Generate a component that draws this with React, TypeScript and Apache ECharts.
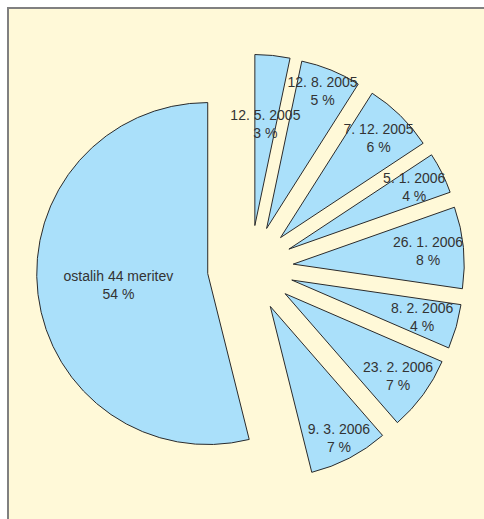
import React, { useEffect, useRef } from 'react';
import * as echarts from 'echarts';

// Slices, clockwise from 12 o'clock
const categories = [
  '12. 5. 2005',
  '12. 8. 2005',
  '7. 12. 2005',
  '5. 1. 2006',
  '26. 1. 2006',
  '8. 2. 2006',
  '23. 2. 2006',
  '9. 3. 2006',
  'ostalih 44 meritev',
];
// Shares (percent)
const values = [3.3, 5.7, 6.7, 3.9, 7.7, 4.2, 7.1, 7.5, 53.9];
// Percent labels as printed on the chart
const percentLabels = ['3 %', '5 %', '6 %', '4 %', '8 %', '4 %', '7 %', '7 %', '54 %'];

const RADIUS = 171;
const CENTER = [250.4, 268.3];
const OFFSET = 43;
const FILL = '#AAE0FA';
const STROKE = '#2b2b2b';
const BG = '#FFF9D8';

export default function App() {
  const ref = useRef<HTMLDivElement>(null);
  useEffect(() => {
    const chart = echarts.init(ref.current!, null, { renderer: 'svg' });

    const makeData = (shown: number[]) =>
      categories.map((name, i) => ({
        name,
        value: values[i],
        selected: true,
        label: { show: shown.includes(i) },
      }));

    const labelStyle = {
      position: 'inside',
      formatter: (p: any) => `${p.name}\n${percentLabels[p.dataIndex]}`,
      color: '#333333',
      fontSize: 14,
      lineHeight: 18,
      fontFamily: 'Liberation Sans, Arial, Helvetica, sans-serif',
      overflow: 'none',
      rotate: 0,
    };

    const base: any = {
      type: 'pie',
      center: CENTER,
      startAngle: 90,
      clockwise: true,
      selectedMode: 'multiple',
      selectedOffset: OFFSET,
      avoidLabelOverlap: false,
      labelLine: { show: false },
      labelLayout: { hideOverlap: false },
      emphasis: { disabled: true },
      animation: false,
    };

    const shapeStyle = { color: FILL, borderColor: STROKE, borderWidth: 1 };
    const hiddenStyle = { color: 'rgba(0,0,0,0)', borderWidth: 0, borderColor: 'rgba(0,0,0,0)' };

    const labelSeries = (r0: number, shown: number[]) => ({
      ...base,
      radius: [r0, RADIUS],
      itemStyle: hiddenStyle,
      select: { itemStyle: hiddenStyle },
      label: { ...labelStyle, show: true },
      data: makeData(shown),
      z: 4,
    });

    chart.setOption({
      animation: false,
      graphic: [
        {
          type: 'rect',
          z: 0,
          shape: { x: 7, y: 7, width: 477, height: 512 },
          style: { fill: BG },
        },
        {
          type: 'line',
          z: 1,
          shape: { x1: 7, y1: 8, x2: 484, y2: 8 },
          style: { stroke: '#808080', lineWidth: 2 },
        },
        {
          type: 'line',
          z: 1,
          shape: { x1: 8, y1: 7, x2: 8, y2: 519 },
          style: { stroke: '#808080', lineWidth: 2 },
        },
      ],
      series: [
        {
          ...base,
          radius: [0, RADIUS],
          itemStyle: shapeStyle,
          select: { itemStyle: shapeStyle },
          label: { show: false },
          data: makeData([]),
          z: 3,
        },
        labelSeries(120, [1, 7]),
        labelSeries(103, [2, 3, 6]),
        labelSeries(94, [4, 5]),
        labelSeries(27, [0]),
        labelSeries(3, [8]),
      ],
    });

    return () => chart.dispose();
  }, []);

  return (
    <div
      ref={ref}
      style={{ position: 'fixed', left: 0, top: 0, width: 484, height: 519, background: '#ffffff' }}
    />
  );
}
